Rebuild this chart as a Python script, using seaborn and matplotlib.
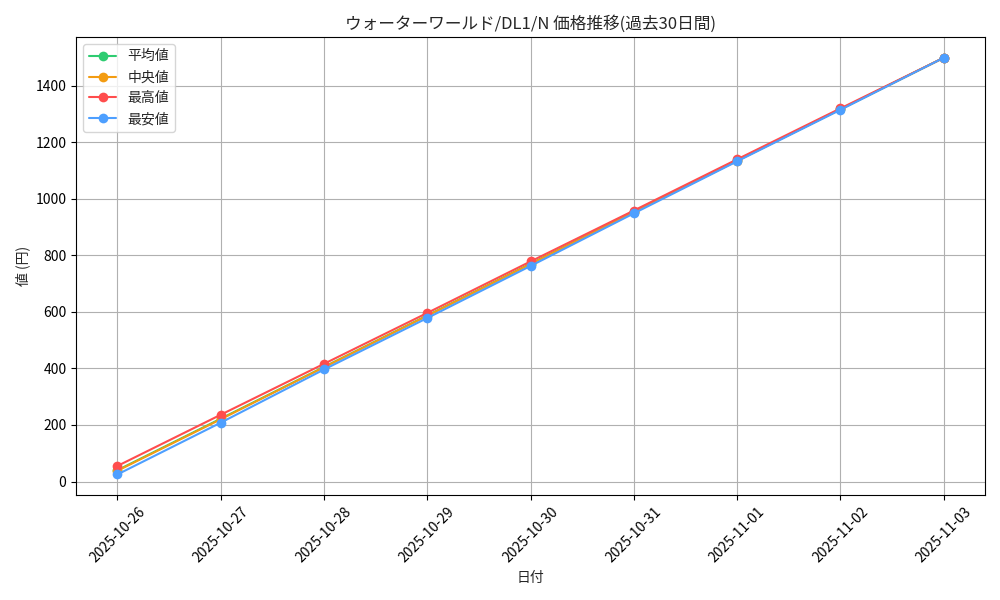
import matplotlib
matplotlib.use("Agg")
import matplotlib.pyplot as plt
import seaborn as sns
import pandas as pd

dates = ["2025-10-26","2025-10-27","2025-10-28","2025-10-29","2025-10-30","2025-10-31","2025-11-01","2025-11-02","2025-11-03"]
avg = [40, 222, 405, 587, 770, 953, 1135, 1316, 1498]
med = [38, 220, 404, 586, 769, 952, 1134, 1316, 1498]
mx = [55, 236, 416, 596, 778, 958, 1139, 1319, 1498]
mn = [25, 208, 396, 578, 762, 948, 1132, 1314, 1498]

sns.set_style("whitegrid")
plt.rcParams['font.family'] = ['Noto Sans CJK JP', 'DejaVu Sans']
fig, ax = plt.subplots(figsize=(10, 6), dpi=100)
x = pd.to_datetime(dates)
for vals, label, c in [(avg, "平均値", "#2ecc71"), (med, "中央値", "#f39c12"), (mx, "最高値", "#ff4d4d"), (mn, "最安値", "#4d9fff")]:
    sns.lineplot(x=x, y=vals, marker="o", markersize=7, markeredgewidth=0, color=c, label=label, ax=ax)
ax.set_xticks(x)
ax.set_xticklabels(dates, rotation=45)
ax.set_title("ウォーターワールド/DL1/N 価格推移(過去30日間)")
ax.set_xlabel("日付")
ax.set_ylabel("値 (円)")
for s in ax.spines.values():
    s.set_color("black"); s.set_linewidth(0.8)
ax.grid(True, color="#b0b0b0", linewidth=0.8)
ax.tick_params(left=True, bottom=True, colors="black")
ax.legend(loc="upper left")
fig.tight_layout()
fig.savefig("out.png")
